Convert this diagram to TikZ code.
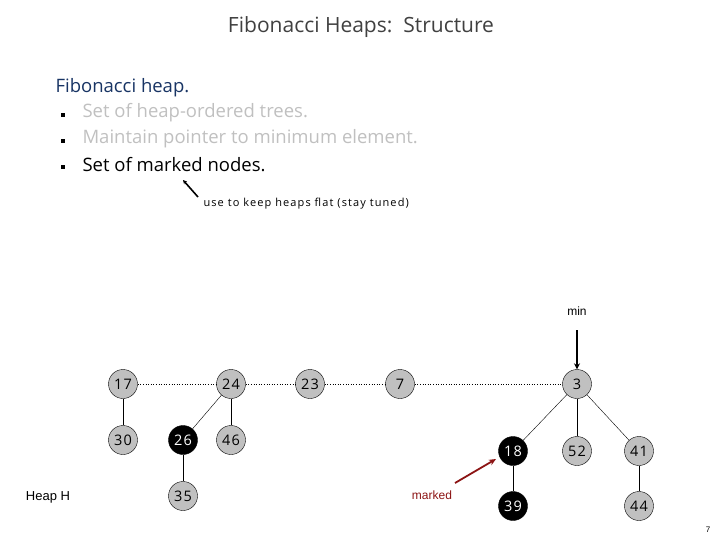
\documentclass[tikz,border=0pt]{standalone}
\usepackage{fontspec}
\setmainfont{Open Sans}
\newfontfamily\arialf{Liberation Sans}
\usetikzlibrary{arrows.meta}
\definecolor{nodegray}{RGB}{192,192,192}
\definecolor{titlegray}{RGB}{64,64,64}
\definecolor{headblue}{RGB}{24,52,100}
\definecolor{lightgray}{RGB}{192,192,192}
\definecolor{markred}{RGB}{140,20,20}
\tikzset{
  hnode/.style={circle,draw=black,fill=nodegray,minimum size=29pt,inner sep=0pt,font=\fontsize{14.5}{16}\selectfont\addfontfeature{LetterSpace=8}},
  mnode/.style={hnode,fill=black,text=white},
  tedge/.style={line width=0.9pt},
  fedge/.style={line width=0.4pt},
  sib/.style={dotted,line width=0.6pt},
}
\begin{document}
\begin{tikzpicture}[x=1pt,y=-1pt]
\useasboundingbox (0,0) rectangle (720,540);
\node[titlegray,font=\fontsize{21}{24}\selectfont] (title) at (361,27) {Fibonacci Heaps:\ \ Structure};
\node[anchor=west,headblue,font=\fontsize{18.5}{22}\selectfont] (h) at (52,88) {Fibonacci heap.};
\node[fill=black,minimum size=3.5pt,inner sep=0pt] (b1) at (63,115) {};
\node[fill=black,minimum size=3.5pt,inner sep=0pt] (b2) at (63,141) {};
\node[fill=black,minimum size=3.5pt,inner sep=0pt] (b3) at (63,167) {};
\node[anchor=west,lightgray,font=\fontsize{18.5}{21}\selectfont] (l1) at (79,113) {Set of heap-ordered trees.};
\node[anchor=west,lightgray,font=\fontsize{18.5}{21}\selectfont] (l2) at (79,139) {Maintain pointer to minimum element.};
\node[anchor=west,black,font=\fontsize{18.5}{21}\selectfont] (l3) at (79,165) {Set of marked nodes.};
\node[anchor=west,font=\fontsize{11}{12}\selectfont\addfontfeature{LetterSpace=10}] (use) at (200,204) {use to keep heaps flat (stay tuned)};
\coordinate (ua) at (198,197);
\coordinate (ub) at (183,180);
\draw[line width=1.6pt,-{Stealth[length=4pt,width=4pt]}] (ua) -- (ub);

\node[hnode] (n17) at (123,384) {17};
\node[hnode] (n24) at (231,384) {24};
\node[hnode] (n23) at (310,384) {23};
\node[hnode] (n7) at (400,384) {7};
\node[hnode] (n3) at (577,384) {3};
\node[hnode] (n30) at (123,440) {30};
\node[mnode] (n26) at (183,440) {26};
\node[hnode] (n46) at (231,440) {46};
\node[hnode] (n35) at (183,496) {35};
\node[mnode] (n18) at (513,451) {18};
\node[hnode] (n52) at (577,451) {52};
\node[hnode] (n41) at (639,451) {41};
\node[mnode] (n39) at (513,506) {39};
\node[hnode] (n44) at (639,506) {44};

\draw[sib] (n17) -- (n24);
\draw[sib] (n24) -- (n23);
\draw[sib] (n23) -- (n7);
\draw[sib] (n7) -- (n3);
\draw[tedge] (n17) -- (n30);
\draw[fedge] (n24) -- (n26);
\draw[tedge] (n24) -- (n46);
\draw[tedge] (n26) -- (n35);
\draw[fedge] (n3) -- (n18);
\draw[tedge] (n3) -- (n52);
\draw[fedge] (n3) -- (n41);
\draw[tedge] (n18) -- (n39);
\draw[tedge] (n41) -- (n44);

\node[font=\arialf\fontsize{12}{14}\selectfont] (min) at (577,311) {min};
\coordinate (ma) at (577,330);
\draw[line width=1.6pt,-{Stealth[length=6pt,width=6pt]}] (ma) -- (n3);
\node[markred,font=\arialf\fontsize{12}{14}\selectfont] (mk) at (432,495) {marked};
\coordinate (mka) at (455,483);
\coordinate (mkb) at (496,459);
\draw[markred,line width=1.8pt,-{Stealth[length=7pt,width=6pt]}] (mka) -- (mkb);
\node[font=\arialf\fontsize{13}{15}\selectfont] (heap) at (48,497) {Heap H};
\node[font=\arialf\fontsize{8}{10}\selectfont] (pg) at (708,530) {7};
\end{tikzpicture}
\end{document}
